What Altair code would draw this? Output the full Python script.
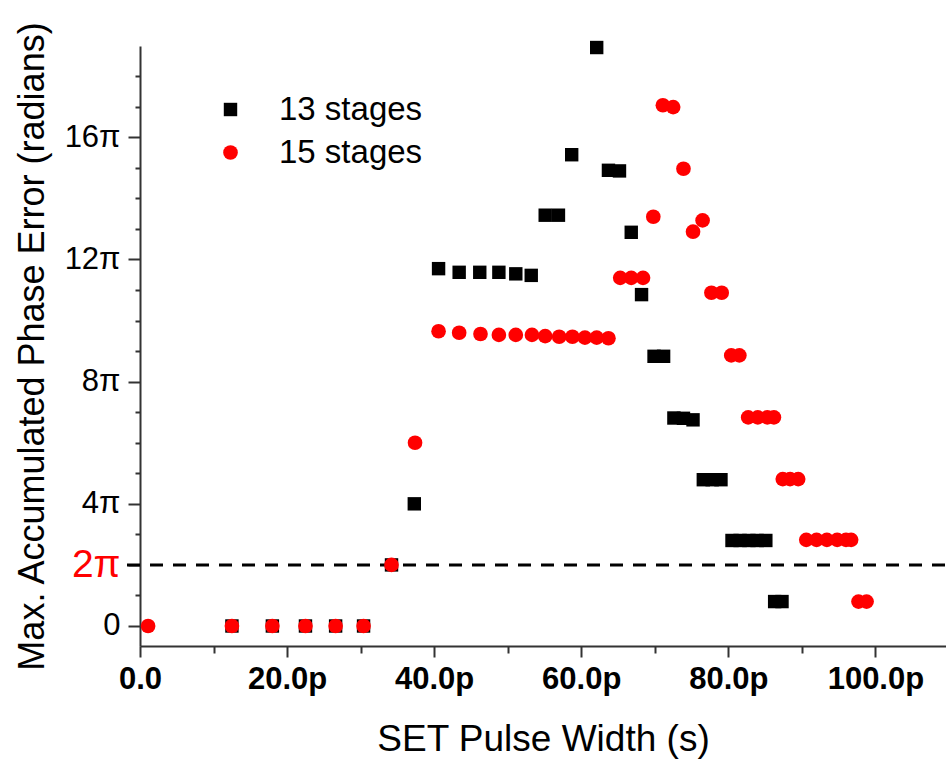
import altair as alt
import pandas as pd

# Pulse widths in ps, phase error in units of pi
series = ["13 stages", "15 stages"]

x13 = [12.5, 18.0, 22.5, 26.6, 30.4, 34.2, 37.3,
       40.6, 43.4, 46.2, 48.8, 51.1, 53.2,
       55.1, 56.9, 58.7, 62.1, 63.7, 65.2, 66.8, 68.2,
       69.9, 71.2, 72.6, 73.9, 75.2, 76.6, 77.8, 79.0,
       80.5, 81.6, 82.8, 83.9, 85.1, 86.3, 87.3]
y13 = [0, 0, 0, 0, 0, 2.0, 4.0,
       11.70, 11.58, 11.58, 11.58, 11.53, 11.48,
       13.45, 13.45, 15.43, 18.94, 14.92, 14.90, 12.89, 10.85,
       8.83, 8.83, 6.81, 6.80, 6.75, 4.79, 4.79, 4.79,
       2.80, 2.80, 2.80, 2.80, 2.80, 0.80, 0.80]

x15 = [1.1, 12.5, 18.0, 22.5, 26.6, 30.4, 34.2, 37.4,
       40.6, 43.4, 46.3, 48.8, 51.1, 53.3, 55.1, 57.0, 58.8, 60.5, 62.1, 63.7,
       65.3, 66.8, 68.4, 69.8, 71.1, 72.5, 73.9, 75.2, 76.5,
       77.7, 79.1, 80.4, 81.5, 82.7, 84.0, 85.3, 86.2,
       87.4, 88.4, 89.5, 90.6, 92.0, 93.4, 94.8, 96.0, 96.7, 97.7, 98.8]
y15 = [0, 0, 0, 0, 0, 0, 2.0, 6.0,
       9.65, 9.60, 9.56, 9.53, 9.53, 9.53, 9.49, 9.47, 9.47, 9.44, 9.44, 9.42,
       11.40, 11.40, 11.40, 13.40, 17.05, 16.99, 14.97, 12.91, 13.28,
       10.91, 10.91, 8.86, 8.86, 6.83, 6.83, 6.83, 6.83,
       4.81, 4.81, 4.81, 2.82, 2.82, 2.82, 2.82, 2.82, 2.82, 0.80, 0.80]

threshold = [2]

df = pd.concat([
    pd.DataFrame({"width": x13, "phase": y13, "series": series[0]}),
    pd.DataFrame({"width": x15, "phase": y15, "series": series[1]}),
], ignore_index=True)

FONT = "Liberation Sans"
Y_TITLE = "Max. Accumulated Phase Error (radians)"
X_TITLE = "SET Pulse Width (s)"

x_scale = alt.Scale(domain=[0, 109.6], nice=False, zero=False)
y_scale = alt.Scale(domain=[-0.655, 18.99], nice=False, zero=False)

x_axis = alt.Axis(
    values=list(range(0, 101, 10)),
    labelExpr="datum.value % 20 === 0 ? (datum.value === 0 ? '0.0' : datum.value + '.0p') : ''",
    tickSize={"condition": {"test": "datum.value % 20 === 0", "value": 11}, "value": 7},
    labelFont=FONT, labelFontSize=31, labelFontWeight="bold", labelColor="black",
    labelPadding=7, labelOverlap=False, labelFlush=False,
    titleFont=FONT, titleFontSize=37, titleFontWeight="normal", titleColor="black",
    titleY=104, titleBaseline="alphabetic",
)

y_axis = alt.Axis(
    values=list(range(0, 19)),
    labelExpr="datum.value === 0 ? '0' : ((datum.value % 4 === 0 || datum.value === 2) ? datum.value + 'π' : '')",
    tickSize={"condition": {"test": "datum.value % 4 === 0 || datum.value === 2", "value": 12}, "value": 5},
    labelColor={"condition": {"test": "datum.value === 2", "value": "#ff0000"}, "value": "#000000"},
    labelFontSize={"condition": {"test": "datum.value === 2", "value": 39}, "value": 31},
    labelFont=FONT, labelPadding=8, labelOverlap=False, labelFlush=False,
    titleFont=FONT, titleFontSize=36, titleFontWeight="normal", titleColor="black",
    titleX=-97, titleY=300, titleAngle=-90, titleAlign="center", titleBaseline="alphabetic",
)

legend = alt.Legend(
    title=None, orient="none", legendX=74, legendY=47,
    labelFont=FONT, labelFontSize=33, labelColor="black",
    symbolSize=175, labelOffset=32, rowPadding=9, padding=0,
)

rule = alt.Chart(pd.DataFrame({"level": threshold})).mark_rule(
    color="black", strokeWidth=3, strokeDash=[13, 10]
).encode(
    y=alt.Y("level:Q", scale=y_scale, axis=y_axis, title=Y_TITLE),
    x=alt.value(-13),
    x2=alt.value(806),
)

points = alt.Chart(df).mark_point(filled=True, opacity=1, strokeWidth=0).encode(
    x=alt.X("width:Q", scale=x_scale, axis=x_axis, title=X_TITLE),
    y=alt.Y("phase:Q", scale=y_scale, axis=y_axis, title=Y_TITLE),
    color=alt.Color("series:N", scale=alt.Scale(domain=series, range=["#000000", "#ff0000"]), legend=legend),
    shape=alt.Shape("series:N", scale=alt.Scale(domain=series, range=["square", "circle"]), legend=legend),
    size=alt.Size("series:N", scale=alt.Scale(domain=series, range=[180, 215]), legend=None),
)

chart = alt.layer(rule, points).properties(
    width=806, height=600,
    padding={"left": 140, "top": 46, "right": 0, "bottom": 117},
    autosize=alt.AutoSizeParams(type="none"),
    background="white",
).configure_view(stroke=None).configure_axis(
    grid=False, domainColor="#333333", domainWidth=2, tickColor="#333333", tickWidth=2,
)

chart.save("out.html", embed_options={"renderer": "svg", "actions": False})
